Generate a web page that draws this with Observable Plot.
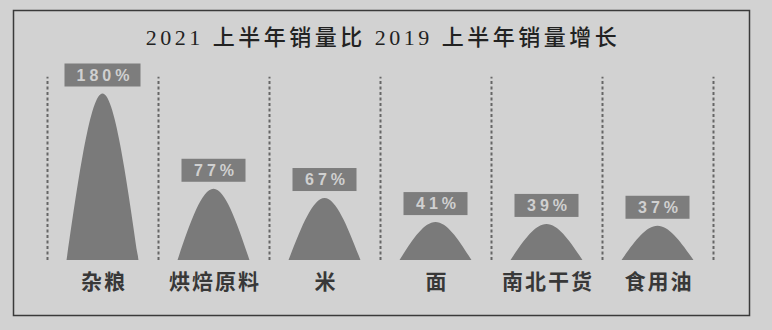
<!DOCTYPE html>
<html><head><meta charset="utf-8">
<script src="https://cdn.jsdelivr.net/npm/d3@7"></script>
<script src="https://cdn.jsdelivr.net/npm/@observablehq/plot@0.6"></script>
<style>html,body{margin:0;padding:0;background:#d2d2d2;} #chart svg{display:block}</style>
</head><body><div id="chart"></div>
<script>
const categories = ["杂粮", "烘焙原料", "米", "面", "南北干货", "食用油"];
const growth = [180, 77, 67, 41, 39, 37];
const valueLabels = ["180%", "77%", "67%", "41%", "39%", "37%"];
const titleText = "2021 上半年销量比 2019 上半年销量增长";

const rows = categories.map((c, i) => ({cat: c, center: i + 0.5, value: growth[i], label: valueLabels[i]}));
const halfW = 0.324;
const peakPoints = rows.flatMap(r => [
  {cat: r.cat, x: r.center - halfW, y: 0},
  {cat: r.cat, x: r.center, y: r.value},
  {cat: r.cat, x: r.center + halfW, y: 0}
]);
const dividers = d3.range(categories.length + 1);

const k = 0.925;
const chart = Plot.plot({
  width: 772, height: 330,
  marginLeft: 13, marginRight: 23, marginTop: 10, marginBottom: 15,
  style: {background: "#d2d2d2", overflow: "visible"},
  x: {domain: [-34 / 111, 702 / 111], axis: null},
  y: {domain: [-55 / k, 250 / k], axis: null},
  marks: [
    Plot.ruleX(dividers, {x: d => d, y1: 0, y2: 198, stroke: "#666", strokeWidth: 2, strokeDasharray: "3,2.5"}),
    Plot.areaY(peakPoints, {x: "x", y1: 0, y2: "y", z: "cat", fill: "#7a7a7a", curve: "natural"}),
    Plot.rect(rows, {filter: d => d.label.length > 3, x1: "center", x2: "center", y1: "value", y2: "value",
      insetLeft: -38, insetRight: -38, insetTop: -30, insetBottom: 7, fill: "#7d7d7d"}),
    Plot.rect(rows, {filter: d => d.label.length <= 3, x1: "center", x2: "center", y1: "value", y2: "value",
      insetLeft: -32, insetRight: -32, insetTop: -30, insetBottom: 7, fill: "#7d7d7d"}),
    Plot.text(rows, {x: "center", y: "value", text: "label", dy: -18.5, dx: 2, fill: "#d0d0d0",
      fontSize: 16, fontWeight: "bold", fontFamily: "'Liberation Sans', Arial, sans-serif"}),
    Plot.text(rows, {x: "center", y: 0, text: "cat", dy: 22, dx: 1, fill: "#383838",
      fontSize: 21, fontWeight: "bold", fontFamily: "'Noto Sans CJK SC', sans-serif"}),
    Plot.text([titleText], {text: d => d, frameAnchor: "top", lineAnchor: "middle", dy: 27, dx: 1.5, fill: "#222",
      fontSize: 22, fontWeight: 500, fontFamily: "'Liberation Serif', 'Noto Sans CJK SC', serif"}),
    Plot.frame({stroke: "#3a3a3a", strokeWidth: 1.5})
  ]
});

d3.select(chart).selectAll("text").each(function() {
  const t = this.textContent;
  if (t === titleText) this.setAttribute("letter-spacing", "3.5");
  else if (valueLabels.includes(t)) this.setAttribute("letter-spacing", "4");
  else if (categories.includes(t)) this.setAttribute("letter-spacing", "2");
});

document.getElementById("chart").appendChild(chart);
</script>
</body></html>
